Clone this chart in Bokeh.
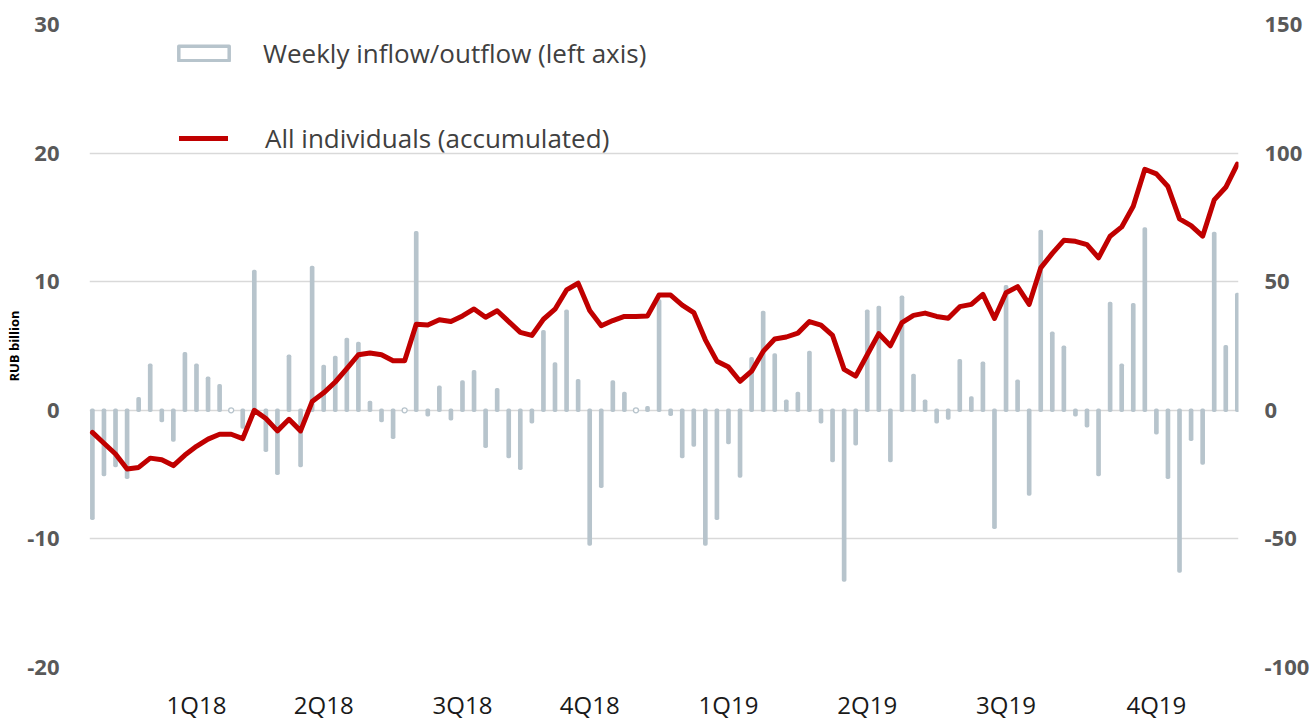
from bokeh.plotting import figure
from bokeh.models import Range1d, LinearAxis, FixedTicker, Legend, LegendItem
from bokeh.embed import file_html
from bokeh.resources import INLINE

# ---- data (RUB billion) ----
weeks = list(range(100))
weekly = [-8.4, -5.0, -4.3, -5.2, 0.9, 3.5, -0.8, -2.3, 4.4, 3.5, 2.5, 1.9, 0, -1.3, 10.8, -3.1, -4.9, 4.2, -4.3, 11.1, 3.4, 4.1, 5.5, 5.2, 0.6,
          -0.8, -2.1, 0, 13.8, -0.35, 1.8, -0.65, 2.2, 3.0, -2.8, 1.6, -3.6, -4.5, -0.9, 6.1, 3.6, 7.7, 2.3, -10.4, -5.9, 2.2, 1.3, 0, 0.2, 8.5,
          -0.3, -3.6, -2.7, -10.4, -8.4, -2.5, -5.1, 4.0, 7.6, 4.3, 0.7, 1.3, 4.5, -0.9, -3.9, -13.2, -2.6, 7.7, 8.0, -3.9, 8.8, 2.7, 0.7, -0.9, -0.6,
          3.85, 0.95, 3.65, -9.1, 9.6, 2.25, -6.5, 13.9, 6.0, 4.9, -0.35, -1.2, -5.0, 8.3, 3.5, 8.2, 14.1, -1.75, -5.2, -12.5, -2.25, -4.1, 13.75, 4.95, 9.0]
accumulated = [-8.6, -12.8, -17, -22.8, -22.2, -18.6, -19.2, -21.5, -17.4, -14, -11.2, -9.3, -9.3, -11, 0, -3.2, -8, -3.5, -8, 3.4, 6.8, 11, 16.2, 21.6, 22.3,
               21.6, 19.3, 19.3, 33.5, 33.2, 35.2, 34.5, 36.7, 39.4, 36.2, 38.7, 34.5, 30.3, 29.1, 35.4, 39.3, 46.8, 49.4, 38.8, 32.9, 34.9, 36.5, 36.5, 36.7, 44.8,
               44.8, 40.9, 38, 27.4, 19.1, 16.8, 11.3, 15.2, 22.9, 27.7, 28.5, 30, 34.5, 33.1, 29.1, 15.9, 13.3, 21.6, 29.8, 25.1, 34.1, 36.9, 37.8, 36.5, 35.8,
               40.3, 41.2, 45.1, 35.7, 45.7, 48.1, 41.2, 55.4, 61, 66.1, 65.7, 64.4, 59.3, 67.7, 71.3, 79.3, 93.7, 91.9, 87, 74.4, 71.8, 67.7, 81.8, 86.7, 95.7]
quarter_pos = [9, 20, 32, 43, 55, 67, 79, 92]
quarter_labels = ["1Q18", "2Q18", "3Q18", "4Q18", "1Q19", "2Q19", "3Q19", "4Q19"]
left_ticks = [-20, -10, 0, 10, 20, 30]
right_ticks = [-100, -50, 0, 50, 100, 150]

BAR = "#B7C4CC"
RED = "#C00000"
GRID = "#D9D9D9"
TICK = "#595959"

p = figure(width=1313, height=723, output_backend="svg", toolbar_location=None,
           x_range=Range1d(-0.25, 99.1), y_range=Range1d(-20, 30),
           min_border_left=89, min_border_right=75, min_border_top=24, min_border_bottom=54)
p.outline_line_color = None
p.background_fill_color = "white"
p.border_fill_color = "white"
p.extra_y_ranges = {"acc": Range1d(-100, 150)}

bars = p.vbar(x=weeks, top=weekly, bottom=0, width=0.1, fill_color="white",
              line_color=BAR, line_width=3.5, line_join="round")
zero_idx = [i for i, v in enumerate(weekly) if v == 0]
p.scatter(zero_idx, [0] * len(zero_idx), size=5, fill_color="white", line_color=BAR, line_width=1.3)
line = p.line(weeks, accumulated, y_range_name="acc", line_color=RED, line_width=5,
              line_join="round", line_cap="round")

# grid
p.xgrid.visible = False
p.ygrid.ticker = FixedTicker(ticks=left_ticks)
p.ygrid.grid_line_color = GRID
p.ygrid.grid_line_width = 1.5

def style_y(ax, standoff):
    ax.axis_line_color = None
    ax.major_tick_line_color = None
    ax.minor_tick_line_color = None
    ax.major_label_text_font = "Open Sans"
    ax.major_label_text_font_style = "bold"
    ax.major_label_text_font_size = "22px"
    ax.major_label_text_color = TICK
    ax.major_label_standoff = standoff

p.yaxis.ticker = FixedTicker(ticks=left_ticks)
p.yaxis.major_label_overrides = {t: str(t) for t in left_ticks}
style_y(p.yaxis[0], 24)
p.yaxis.axis_label = "RUB billion"
p.yaxis.axis_label_text_font = "Open Sans"
p.yaxis.axis_label_text_font_style = "bold"
p.yaxis.axis_label_text_font_size = "13px"
p.yaxis.axis_label_text_color = "black"
p.yaxis.axis_label_standoff = 1

rax = LinearAxis(y_range_name="acc", ticker=FixedTicker(ticks=right_ticks))
rax.major_label_overrides = {t: str(t) for t in right_ticks}
style_y(rax, 20)
p.add_layout(rax, "right")

p.xaxis.ticker = FixedTicker(ticks=quarter_pos)
p.xaxis.major_label_overrides = {k: v for k, v in zip(quarter_pos, quarter_labels)}
p.xaxis.axis_line_color = None
p.xaxis.major_tick_line_color = None
p.xaxis.minor_tick_line_color = None
p.xaxis.major_label_text_font = "Open Sans"
p.xaxis.major_label_text_font_size = "24px"
p.xaxis.major_label_text_color = "#1a1a1a"
p.xaxis.major_label_standoff = 14

common = dict(margin=0, padding=0, label_text_font="Open Sans", label_text_font_size="26px",
              label_text_color="#404040", border_line_color=None, background_fill_alpha=0)
legend1 = Legend(items=[LegendItem(label="Weekly inflow/outflow (left axis)", renderers=[bars])],
                 location=(83, 596), glyph_width=63, glyph_height=18, label_standoff=28, **common)
legend2 = Legend(items=[LegendItem(label="All individuals (accumulated)", renderers=[line])],
                 location=(90, 511), glyph_width=49, glyph_height=18, label_standoff=37, **common)
p.add_layout(legend1)
p.add_layout(legend2)

open("out.html", "w").write(file_html(p, INLINE))
